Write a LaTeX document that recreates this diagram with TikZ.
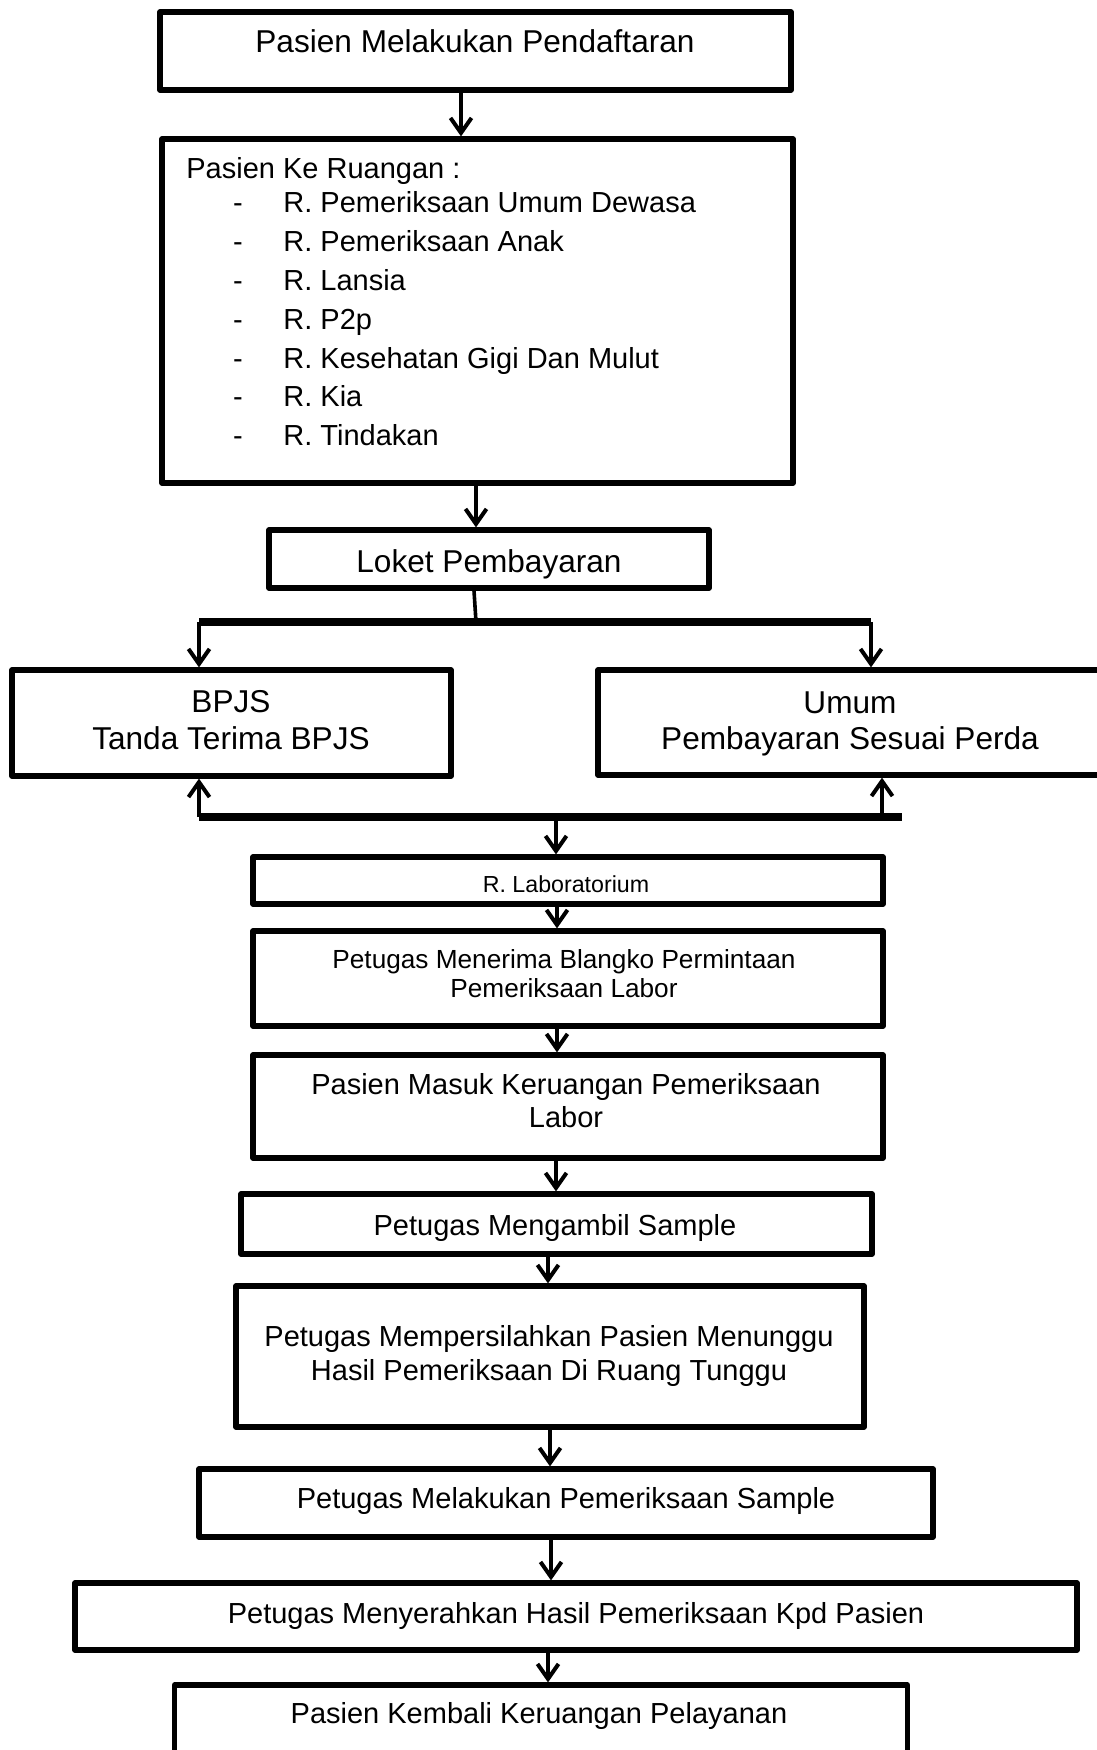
\documentclass[tikz,border=0pt]{standalone}
\usepackage{fontspec}
\setmainfont{Liberation Sans}
\usetikzlibrary{arrows.meta}
\newcommand{\fsA}{\fontsize{15.8pt}{18pt}\selectfont}
\newcommand{\fsB}{\fontsize{14.5pt}{17pt}\selectfont}
\newcommand{\fsC}{\fontsize{13.1pt}{15pt}\selectfont}
\newcommand{\fsD}{\fontsize{11.6pt}{14pt}\selectfont}
\begin{document}
\begin{tikzpicture}[x=0.5pt,y=-0.5pt,
  box/.style={draw, line width=2.6pt, line join=round, inner sep=0pt, fill=none},
  lbl/.style={inner sep=0pt, anchor=base},
  lblw/.style={inner sep=0pt, anchor=base west},
  arr/.style={line width=2pt, -{Straight Barb[length=7.5pt,width=10.5pt]}},
  ln/.style={line width=1.8pt},
  bar/.style={line width=4.4pt}]
\useasboundingbox (0,0) rectangle (1097,1750);
\clip (0,0) rectangle (1097,1750);

% boxes
\node[box, minimum width=315.5pt, minimum height=39pt]   (b1)  at (475.5,51) {};
\node[box, minimum width=315.5pt, minimum height=172pt]  (b2)  at (477.5,311) {};
\node[box, minimum width=220pt,   minimum height=29pt]   (b3)  at (489,559) {};
\node[box, minimum width=219.5pt, minimum height=53pt]   (b4)  at (231.5,723) {};
\node[box, minimum width=252pt,   minimum height=52.5pt] (b5)  at (850,722.5) {};
\node[box, minimum width=315pt,   minimum height=23.5pt] (b6)  at (568,880.5) {};
\node[box, minimum width=315pt,   minimum height=47.5pt] (b7)  at (568,978.5) {};
\node[box, minimum width=315pt,   minimum height=51.5pt] (b8)  at (568,1106.5) {};
\node[box, minimum width=315.5pt, minimum height=30pt]   (b9)  at (556.5,1224) {};
\node[box, minimum width=314pt,   minimum height=70.5pt] (b10) at (550,1356.5) {};
\node[box, minimum width=367pt,   minimum height=34pt]   (b11) at (566,1503) {};
\node[box, minimum width=501pt,   minimum height=33.5pt] (b12) at (576,1616.5) {};
\node[box, minimum width=366.5pt, minimum height=45pt]   (b13) at (541,1730) {};

% texts
\node[lbl, font=\fsA] (t1) at (475,53) {Pasien Melakukan Pendaftaran};

\node[lblw, font=\fsB] (t2) at (186,178) {Pasien Ke Ruangan :};
\foreach \yy/\tt [count=\i] in {212/R. Pemeriksaan Umum Dewasa, 251/R. Pemeriksaan Anak, 290/R. Lansia, 329/R. P2p, 368/R. Kesehatan Gigi Dan Mulut, 406/R. Kia, 445/R. Tindakan}{
  \node[lbl, font=\fsB] (d\i) at (238,\yy) {-};
  \node[lblw, font=\fsB] (r\i) at (283,\yy) {\tt};
}

\node[lbl, font=\fsA] (t3) at (489,572) {Loket Pembayaran};
\node[lbl, font=\fsA] (t4a) at (231,712) {BPJS};
\node[lbl, font=\fsA] (t4b) at (231,749) {Tanda Terima BPJS};
\node[lbl, font=\fsA] (t5a) at (850,713) {Umum};
\node[lbl, font=\fsA] (t5b) at (850,749) {Pembayaran Sesuai Perda};
\node[lbl, font=\fsD] (t6) at (566,892) {R. Laboratorium};
\node[lbl, font=\fsC] (t7a) at (564,968) {Petugas Menerima Blangko Permintaan};
\node[lbl, font=\fsC] (t7b) at (564,997) {Pemeriksaan Labor};
\node[lbl, font=\fsB] (t8a) at (566,1094) {Pasien Masuk Keruangan Pemeriksaan};
\node[lbl, font=\fsB] (t8b) at (566,1127) {Labor};
\node[lbl, font=\fsB] (t9) at (555,1235) {Petugas Mengambil Sample};
\node[lbl, font=\fsB] (t10a) at (549,1346) {Petugas Mempersilahkan Pasien Menunggu};
\node[lbl, font=\fsB] (t10b) at (549,1380) {Hasil Pemeriksaan Di Ruang Tunggu};
\node[lbl, font=\fsB] (t11) at (566,1508) {Petugas Melakukan Pemeriksaan Sample};
\node[lbl, font=\fsB] (t12) at (576,1623) {Petugas Menyerahkan Hasil Pemeriksaan Kpd Pasien};
\node[lbl, font=\fsB] (t13) at (539,1723) {Pasien Kembali Keruangan Pelayanan};

% column coordinates
\coordinate (ca1) at (461,0);
\coordinate (ca2) at (476,0);
\coordinate (cl)  at (474,0);
\coordinate (j1)  at (476,622);
\coordinate (bl1) at (199,622);
\coordinate (br1) at (871,622);
\coordinate (bl2) at (199,817);
\coordinate (br2) at (902,817);
\coordinate (u2)  at (882,817);
\coordinate (d2)  at (556,817);
\coordinate (ca8) at (557,0);
\coordinate (ca9) at (557,0);
\coordinate (ca10) at (556,0);
\coordinate (ca11) at (548,0);
\coordinate (ca12) at (550,0);
\coordinate (ca13) at (551,0);
\coordinate (ca14) at (548,0);

% connectors
\draw[arr] (b1.south -| ca1) -- (b2.north -| ca1);
\draw[arr] (b2.south -| ca2) -- (b3.north -| ca2);
\draw[ln] (b3.south -| cl) -- (j1);
\draw[bar] (bl1) -- (br1);
\draw[arr] (bl1) -- (b4.north -| bl1);
\draw[arr] (br1) -- (b5.north -| br1);
\draw[bar] (bl2) -- (br2);
\draw[arr] (bl2) -- (b4.south -| bl2);
\draw[arr] (u2) -- (b5.south -| u2);
\draw[arr] (d2) -- (b6.north -| d2);
\draw[arr] (b6.south -| ca8) -- (b7.north -| ca8);
\draw[arr] (b7.south -| ca9) -- (b8.north -| ca9);
\draw[arr] (b8.south -| ca10) -- (b9.north -| ca10);
\draw[arr] (b9.south -| ca11) -- (b10.north -| ca11);
\draw[arr] (b10.south -| ca12) -- (b11.north -| ca12);
\draw[arr] (b11.south -| ca13) -- (b12.north -| ca13);
\draw[arr] (b12.south -| ca14) -- (b13.north -| ca14);
\end{tikzpicture}
\end{document}
